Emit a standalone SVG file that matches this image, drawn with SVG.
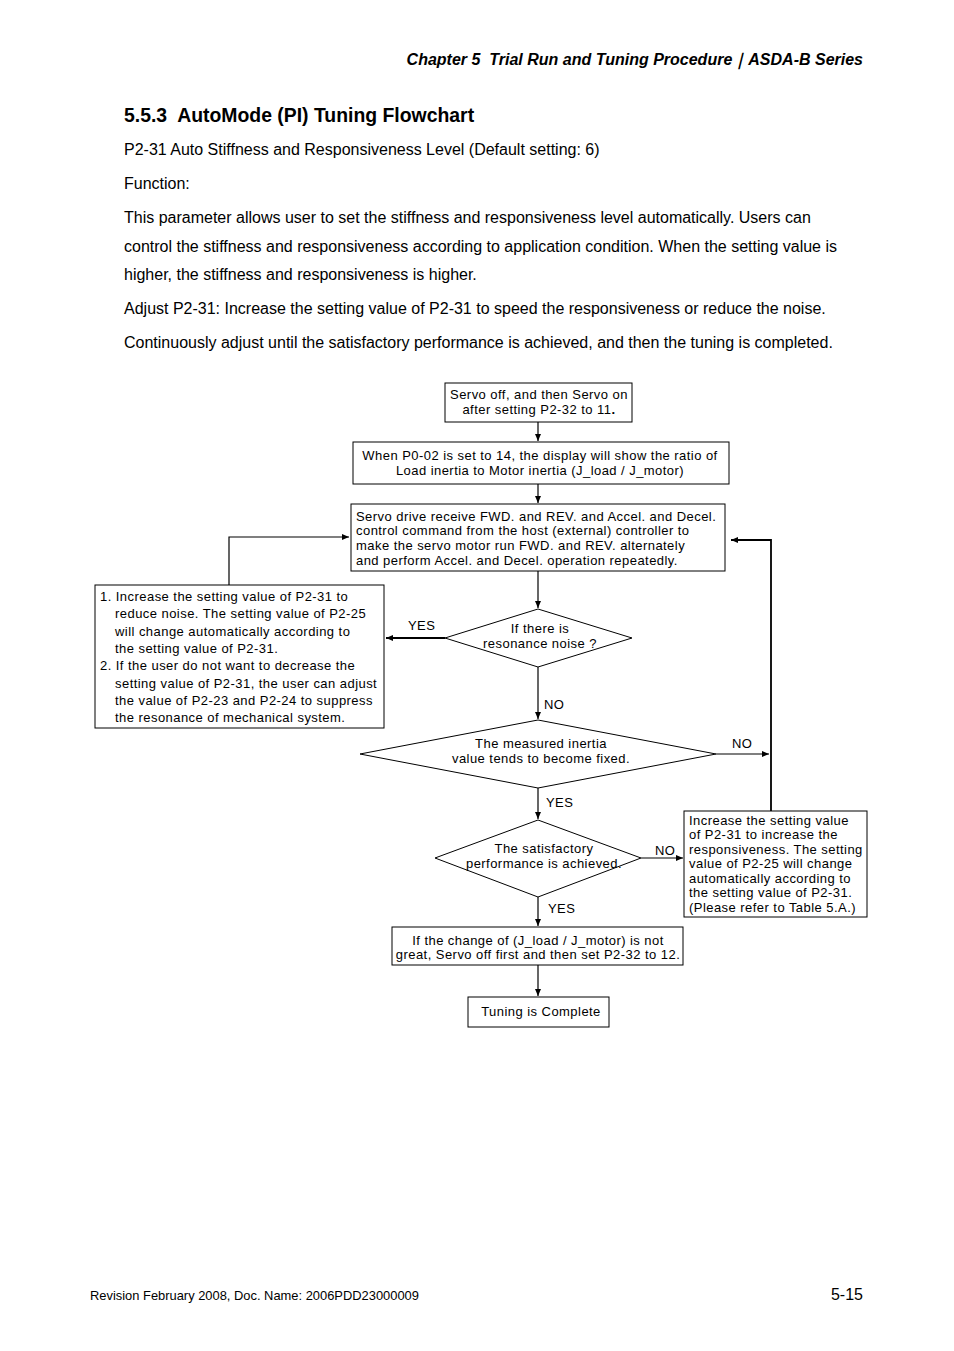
<svg xmlns="http://www.w3.org/2000/svg" width="954" height="1351" viewBox="0 0 954 1351">
<style>
.pg{font-family:"Liberation Sans",Arial,sans-serif;fill:#000}
.t{font-family:"Liberation Sans",Arial,sans-serif;font-size:13px;fill:#000;letter-spacing:0.45px}
.c{text-anchor:middle}
.b{fill:#fff;stroke:#000;stroke-width:1}
.ln{fill:none;stroke:#000;stroke-width:1.2}
.lb{fill:none;stroke:#000;stroke-width:1.8}
</style>
<defs>
<marker id="ah" markerWidth="8" markerHeight="8" refX="7" refY="4" orient="auto" markerUnits="userSpaceOnUse">
<path d="M0,1 L7,4 L0,7 z" fill="#000"/>
</marker>
</defs>
<rect width="954" height="1351" fill="#fff"/>
<g id="page-text" class="pg">
<text x="863" y="65" font-size="16" font-weight="bold" font-style="italic" text-anchor="end" xml:space="preserve">Chapter 5  Trial Run and Tuning Procedure｜ASDA-B Series</text>
<text x="124" y="122" font-size="19.4" font-weight="bold" xml:space="preserve">5.5.3  AutoMode (PI) Tuning Flowchart</text>
<text x="124" y="155" font-size="16">P2-31 Auto Stiffness and Responsiveness Level (Default setting: 6)</text>
<text x="124" y="189" font-size="16">Function:</text>
<text x="124" y="223" font-size="16">This parameter allows user to set the stiffness and responsiveness level automatically. Users can</text>
<text x="124" y="252" font-size="16">control the stiffness and responsiveness according to application condition. When the setting value is</text>
<text x="124" y="280" font-size="16">higher, the stiffness and responsiveness is higher.</text>
<text x="124" y="314" font-size="16">Adjust P2-31: Increase the setting value of P2-31 to speed the responsiveness or reduce the noise.</text>
<text x="124" y="348" font-size="16">Continuously adjust until the satisfactory performance is achieved, and then the tuning is completed.</text>
<text x="90" y="1300" font-size="12.9">Revision February 2008, Doc. Name: 2006PDD23000009</text>
<text x="863" y="1300" font-size="16" text-anchor="end">5-15</text>
</g>
<g id="connectors">
<line class="ln" x1="538" y1="422" x2="538" y2="441" marker-end="url(#ah)"/>
<line class="ln" x1="538" y1="484" x2="538" y2="503" marker-end="url(#ah)"/>
<line class="ln" x1="538" y1="571" x2="538" y2="608" marker-end="url(#ah)"/>
<line class="lb" x1="445" y1="638" x2="386" y2="638" marker-end="url(#ah)"/>
<polyline class="ln" points="229,585 229,537 349,537" marker-end="url(#ah)"/>
<line class="ln" x1="538" y1="667" x2="538" y2="719" marker-end="url(#ah)"/>
<line class="ln" x1="716" y1="754" x2="769" y2="754" marker-end="url(#ah)"/>
<polyline class="lb" points="771,811 771,540 731,540" marker-end="url(#ah)"/>
<line class="ln" x1="538" y1="788" x2="538" y2="819" marker-end="url(#ah)"/>
<line class="ln" x1="641" y1="858" x2="683" y2="858" marker-end="url(#ah)"/>
<line class="ln" x1="538" y1="897" x2="538" y2="926" marker-end="url(#ah)"/>
<line class="ln" x1="538" y1="965" x2="538" y2="996" marker-end="url(#ah)"/>
<text class="t" x="408" y="630">YES</text>
<text class="t" x="544" y="709">NO</text>
<text class="t" x="732" y="748">NO</text>
<text class="t" x="546" y="807">YES</text>
<text class="t" x="655" y="855">NO</text>
<text class="t" x="548" y="913">YES</text>
</g>
<g id="n1">
<rect class="b" x="445" y="383" width="187" height="39"/>
<text class="t c" x="539" y="399">Servo off, and then Servo on</text>
<text class="t c" x="539" y="414">after setting P2-32 to 11<tspan font-weight="bold">.</tspan></text>
</g>
<g id="n2">
<rect class="b" x="353" y="442" width="376" height="42"/>
<text class="t c" x="540" y="460">When P0-02 is set to 14, the display will show the ratio of</text>
<text class="t c" x="540" y="475">Load inertia to Motor inertia (J_load / J_motor)</text>
</g>
<g id="n3">
<rect class="b" x="351" y="504" width="374" height="67"/>
<text class="t" x="356" y="521">Servo drive receive FWD. and REV. and Accel. and Decel.</text>
<text class="t" x="356" y="535">control command from the host (external) controller to</text>
<text class="t" x="356" y="550">make the servo motor run FWD. and REV. alternately</text>
<text class="t" x="356" y="565">and perform Accel. and Decel. operation repeatedly.</text>
</g>
<g id="n4">
<polygon class="b" points="538,609 632,638 538,667 445,638"/>
<text class="t c" x="540" y="633">If there is</text>
<text class="t c" x="540" y="648">resonance noise ?</text>
</g>
<g id="n5">
<rect class="b" x="95" y="585" width="289" height="143"/>
<text class="t" x="100" y="601">1. Increase the setting value of P2-31 to</text>
<text class="t" x="115" y="618">reduce noise. The setting value of P2-25</text>
<text class="t" x="115" y="636">will change automatically according to</text>
<text class="t" x="115" y="653">the setting value of P2-31.</text>
<text class="t" x="100" y="670">2. If the user do not want to decrease the</text>
<text class="t" x="115" y="688">setting value of P2-31, the user can adjust</text>
<text class="t" x="115" y="705">the value of P2-23 and P2-24 to suppress</text>
<text class="t" x="115" y="722">the resonance of mechanical system.</text>
</g>
<g id="n6">
<polygon class="b" points="538,720 716,754 538,788 360,754"/>
<text class="t c" x="541" y="748">The measured inertia</text>
<text class="t c" x="541" y="763">value tends to become fixed.</text>
</g>
<g id="n7">
<polygon class="b" points="538,820 641,858 538,897 435,858"/>
<text class="t c" x="544" y="853">The satisfactory</text>
<text class="t c" x="544" y="868">performance is achieved.</text>
</g>
<g id="n8">
<rect class="b" x="684" y="811" width="183" height="106"/>
<text class="t" x="689" y="825">Increase the setting value</text>
<text class="t" x="689" y="839">of P2-31 to increase the</text>
<text class="t" x="689" y="854">responsiveness. The setting</text>
<text class="t" x="689" y="868">value of P2-25 will change</text>
<text class="t" x="689" y="883">automatically according to</text>
<text class="t" x="689" y="897">the setting value of P2-31.</text>
<text class="t" x="689" y="912">(Please refer to Table 5.A.)</text>
</g>
<g id="n9">
<rect class="b" x="392" y="927" width="291" height="38"/>
<text class="t c" x="538" y="945">If the change of (J_load / J_motor) is not</text>
<text class="t c" x="538" y="959">great, Servo off first and then set P2-32 to 12.</text>
</g>
<g id="n10">
<rect class="b" x="468" y="997" width="141" height="30"/>
<text class="t c" x="541" y="1016">Tuning is Complete</text>
</g>
</svg>
